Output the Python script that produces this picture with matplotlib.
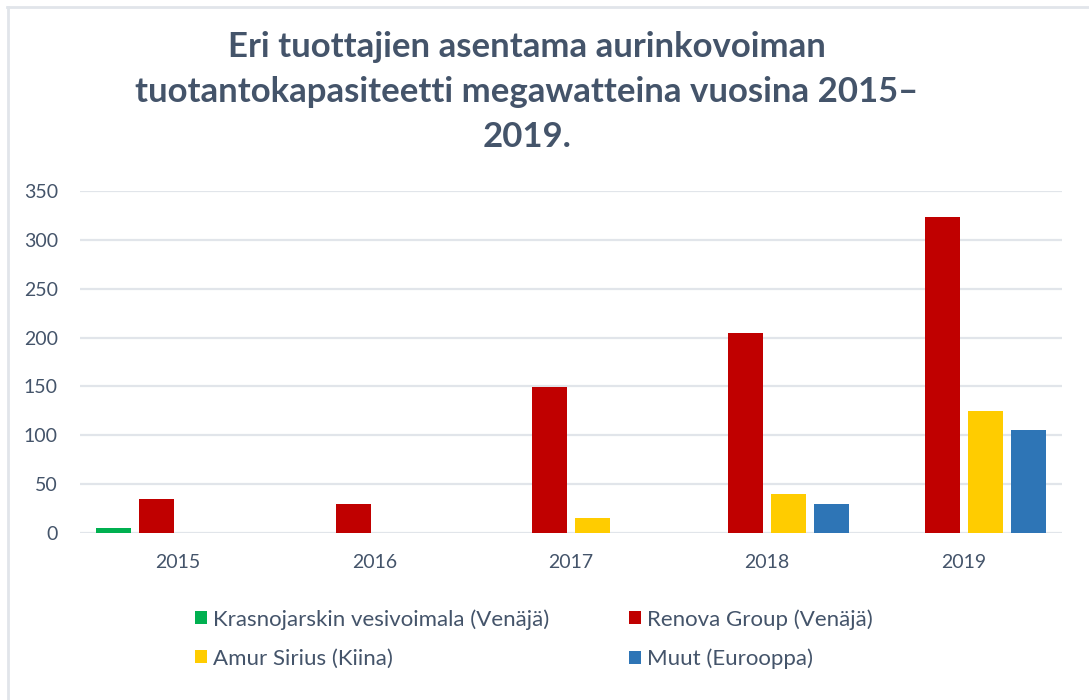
import numpy as np
import matplotlib.pyplot as plt
from matplotlib.lines import Line2D

plt.rcParams['font.family'] = ['Lato', 'DejaVu Sans']

years = ['2015', '2016', '2017', '2018', '2019']
series_names = ['Krasnojarskin vesivoimala (Venäjä)', 'Renova Group (Venäjä)',
                'Amur Sirius (Kiina)', 'Muut (Eurooppa)']
krasnojarsk = [5, None, None, None, None]
renova = [35, 30, 149, 205, 323]
amur = [None, None, 15, 40, 125]
muut = [None, None, None, 30, 105]
colors = ['#00B050', '#C00000', '#FFCC00', '#2E75B6']

title = ('Eri tuottajien asentama aurinkovoiman\n'
         'tuotantokapasiteetti megawatteina vuosina 2015–\n'
         '2019.')

txt_col = '#44546A'
grid_col = '#E1E5EA'

fig = plt.figure(figsize=(10.89, 7), dpi=100)
ax = fig.add_axes([0.0735, 0.2386, 0.9015, 0.4886])

x = np.arange(len(years))
w = 0.178
step = 0.219
bars = []
for i, vals in enumerate([krasnojarsk, renova, amur, muut]):
    v = np.array([np.nan if a is None else a for a in vals], dtype=float)
    b = ax.bar(x + (i - 1.5) * step, v, w, color=colors[i], label=series_names[i], zorder=3)
    bars.append(b)

ax.set_xlim(-0.5, len(years) - 0.5)
ax.set_ylim(0, 350)
ax.set_yticks(np.arange(0, 351, 50))
ax.set_xticks(x)
ax.set_xticklabels(years)
ax.yaxis.grid(True, color=grid_col, lw=1.6, zorder=0)
ax.set_axisbelow(True)
for s in ax.spines.values():
    s.set_visible(False)
ax.tick_params(axis='both', length=0, labelsize=14, colors=txt_col)
ax.tick_params(axis='x', pad=15)
ax.tick_params(axis='y', pad=16)

fig.text(0.484, 0.869, title, ha='center', va='center', fontsize=25,
         fontweight='bold', color=txt_col, linespacing=1.5)

# legend: row-wise order
order = [0, 2, 1, 3]
leg = fig.legend([bars[i] for i in order], [series_names[i] for i in order],
                 ncol=2, loc='center', bbox_to_anchor=(0.490, 0.087), frameon=False,
                 fontsize=16, handlelength=0.55, handleheight=0.55, handletextpad=0.25,
                 columnspacing=3.6, labelspacing=0.85, labelcolor=txt_col)

# chart border (top and left visible)
fig.add_artist(Line2D([7 / 1089, 1.0], [1 - 6.5 / 700, 1 - 6.5 / 700],
                      transform=fig.transFigure, color=grid_col, lw=2))
fig.add_artist(Line2D([7.5 / 1089, 7.5 / 1089], [0, 1 - 6.5 / 700],
                      transform=fig.transFigure, color=grid_col, lw=2))

fig.savefig('out.png', dpi=100, facecolor='white')
